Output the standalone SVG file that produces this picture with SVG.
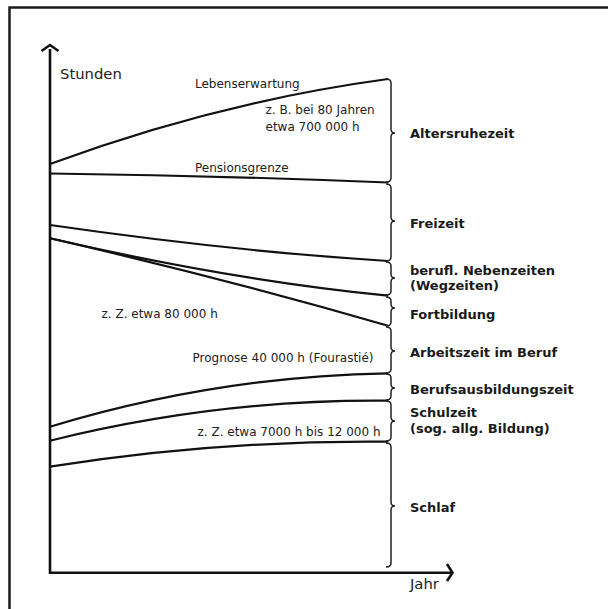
<svg xmlns="http://www.w3.org/2000/svg" width="608" height="609" viewBox="0 0 608 609">
<style>
.frame{fill:none;stroke:#1a1a1a;stroke-width:2.5}
.axis{fill:none;stroke:#111;stroke-width:2.6}
.curve{fill:none;stroke:#111;stroke-width:2.2}
.brace{fill:none;stroke:#222;stroke-width:1.5}
.lab{font-family:"DejaVu Sans",sans-serif;font-size:12px;fill:#222}
.ax{font-family:"DejaVu Sans",sans-serif;font-size:14.8px;fill:#222}
.cat{font-family:"DejaVu Sans",sans-serif;font-size:13px;font-weight:bold;fill:#1a1a1a}
</style>
<rect width="608" height="609" fill="#fff"/>
<g id="frame">
<path class="frame" d="M9.5,609 L9.5,7.5 L608,7.5"/>
</g>
<g id="axes">
<path class="axis" d="M50,49 L50,572.7 L452,572.7"/>
<path class="axis" d="M41.5,51 L50,45 L58.5,51"/>
<path class="axis" d="M447,564 L452.5,572.7 L447,581"/>
<text class="ax" x="60" y="79">Stunden</text>
<text class="ax" x="410" y="589">Jahr</text>
</g>
<g id="connectors">
<path class="curve" d="M50,164 Q218,102 388,79"/>
<path class="curve" d="M50,173.5 Q218,175.5 388,182.5"/>
<path class="curve" d="M50,225 Q230,251 388,261"/>
<path class="curve" d="M50,238.3 Q230,280 388,295.7"/>
<path class="curve" d="M50,238.3 Q219,277 388,325.7"/>
<path class="curve" d="M50,426.7 Q218,376 388,373.3"/>
<path class="curve" d="M50,440.7 Q218,399 388,400.7"/>
<path class="curve" d="M50,466.7 Q218,440 388,441.7"/>
</g>
<g id="curve-labels">
<text class="lab" x="195" y="88">Lebenserwartung</text>
<text class="lab" x="265.5" y="114">z. B. bei 80 Jahren</text>
<text class="lab" x="265.5" y="131">etwa 700 000 h</text>
<text class="lab" x="195" y="172">Pensionsgrenze</text>
<text class="lab" x="101.5" y="318">z. Z. etwa 80 000 h</text>
<text class="lab" x="192.5" y="362">Prognose 40 000 h (Fourastié)</text>
<text class="lab" x="197.5" y="436">z. Z. etwa 7000 h bis 12 000 h</text>
</g>
<g id="altersruhezeit">
<path class="brace" d="M386,79 Q391,79 391,83 L391,129 Q391,133 395,133 Q391,133 391,137 L391,178 Q391,182 386,182"/>
<text class="cat" x="410" y="138">Altersruhezeit</text>
</g>
<g id="freizeit">
<path class="brace" d="M386,184 Q391,184 391,188 L391,217 Q391,221 395,221 Q391,221 391,225 L391,257 Q391,261 386,261"/>
<text class="cat" x="410" y="228">Freizeit</text>
</g>
<g id="nebenzeiten">
<path class="brace" d="M386,262 Q391,262 391,266 L391,274 Q391,278 395,278 Q391,278 391,282 L391,291 Q391,295 386,295"/>
<text class="cat" x="410" y="274.5">berufl. Nebenzeiten</text>
<text class="cat" x="410" y="290">(Wegzeiten)</text>
</g>
<g id="fortbildung">
<path class="brace" d="M386,297 Q391,297 391,301 L391,304 Q391,308 395,308 Q391,308 391,312 L391,322 Q391,326 386,326"/>
<text class="cat" x="410" y="319">Fortbildung</text>
</g>
<g id="arbeitszeit">
<path class="brace" d="M386,327 Q391,327 391,331 L391,347 Q391,351 395,351 Q391,351 391,355 L391,369 Q391,373 386,373"/>
<text class="cat" x="410" y="357">Arbeitszeit im Beruf</text>
</g>
<g id="berufsausbildung">
<path class="brace" d="M386,374 Q391,374 391,378 L391,384 Q391,388 395,388 Q391,388 391,392 L391,396 Q391,400 386,400"/>
<text class="cat" x="410" y="394">Berufsausbildungszeit</text>
</g>
<g id="schulzeit">
<path class="brace" d="M386,401 Q391,401 391,405 L391,417 Q391,421 395,421 Q391,421 391,425 L391,437 Q391,441 386,441"/>
<text class="cat" x="410" y="417">Schulzeit</text>
<text class="cat" x="410" y="433">(sog. allg. Bildung)</text>
</g>
<g id="schlaf">
<path class="brace" d="M386,443 Q391,443 391,447 L391,502 Q391,506 395,506 Q391,506 391,510 L391,563 Q391,567 386,567"/>
<text class="cat" x="410" y="512">Schlaf</text>
</g>
</svg>
